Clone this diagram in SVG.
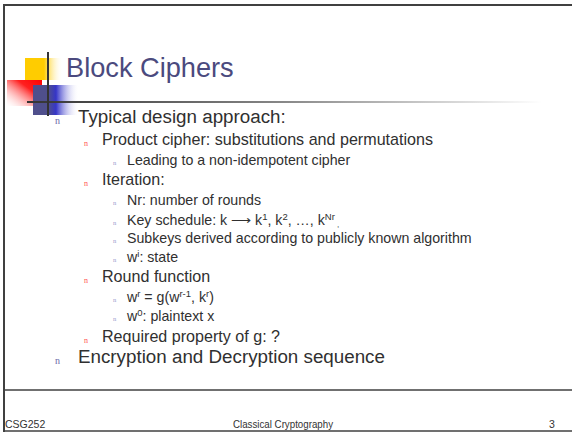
<svg xmlns="http://www.w3.org/2000/svg" width="572" height="432" viewBox="0 0 572 432">
<defs>
<linearGradient id="gYellow" x1="0" y1="0" x2="1" y2="0">
<stop offset="0" stop-color="#ffcc00"/><stop offset="0.5" stop-color="#ffcc00"/><stop offset="1" stop-color="#ffffff" stop-opacity="0"/>
</linearGradient>
<linearGradient id="gRed" x1="1" y1="0" x2="0" y2="1">
<stop offset="0" stop-color="#ff0000"/><stop offset="0.35" stop-color="#ff2020"/><stop offset="1" stop-color="#ffffff" stop-opacity="0.2"/>
</linearGradient>
<linearGradient id="gBlue" x1="0" y1="0" x2="1" y2="0">
<stop offset="0" stop-color="#4f4f8c"/><stop offset="0.33" stop-color="#4f4f8c"/><stop offset="0.5" stop-color="#3535c8"/><stop offset="1" stop-color="#ffffff" stop-opacity="0"/>
</linearGradient>
<linearGradient id="gLine" x1="0" y1="0" x2="1" y2="0">
<stop offset="0" stop-color="#333333"/><stop offset="0.5" stop-color="#888888"/><stop offset="1" stop-color="#ffffff"/>
</linearGradient>
</defs>
<style>
.t{font-family:"Liberation Sans",Arial,sans-serif;fill:#303030}
.l1{font-size:18.8px}
.l2{font-size:16.1px}
.l3{font-size:14.2px}
.b{font-family:"Liberation Serif",serif}
.b1{font-size:10px;fill:#6a6aa8}
.b2{font-size:8px;fill:#ff5555}
.b3{font-size:6.5px;fill:#9a9acc}
.f{font-family:"Liberation Sans",Arial,sans-serif;font-size:10.5px;fill:#333333}
.frame{stroke:#404040;fill:none}
</style>
<rect x="0" y="0" width="572" height="432" fill="#ffffff"/>
<g id="frame">
<line class="frame" x1="3" y1="5" x2="572" y2="5" stroke-width="2"/>
<line class="frame" x1="4" y1="4" x2="4" y2="432" stroke-width="2"/>
<line class="frame" x1="3" y1="390" x2="572" y2="390" stroke-width="1.5"/>
<line class="frame" x1="3" y1="431" x2="572" y2="431" stroke-width="1.5"/>
</g>
<g id="logo">
<rect x="25" y="58" width="38" height="22" fill="url(#gYellow)"/>
<rect x="7" y="80" width="35" height="26" fill="url(#gRed)"/>
<rect x="33" y="85" width="46" height="30" fill="url(#gBlue)"/>
<rect x="27" y="101" width="515" height="2" fill="url(#gLine)"/>
<line x1="48" y1="52" x2="48" y2="116" stroke="#333333" stroke-width="2"/>
</g>
<g id="title">
<text x="66" y="77" style="font-family:'Liberation Sans',Arial,sans-serif;font-size:27.2px;fill:#4b4a7e">Block Ciphers</text>
</g>
<g id="body">
<text class="b b1" x="55" y="124">n</text>
<text class="t l1" x="78" y="123">Typical design approach:</text>
<text class="b b2" x="84" y="146">n</text>
<text class="t l2" x="102" y="145">Product cipher: substitutions and permutations</text>
<text class="b b3" x="113" y="165">n</text>
<text class="t l3" x="127" y="165">Leading to a non-idempotent cipher</text>
<text class="b b2" x="84" y="186">n</text>
<text class="t l2" x="102" y="185">Iteration:</text>
<text class="b b3" x="113" y="205">n</text>
<text class="t l3" x="127" y="205">Nr: number of rounds</text>
<text class="b b3" x="113" y="225">n</text>
<text class="t l3" x="127" y="225">Key schedule: k ⟶ k<tspan font-size="9.5" dy="-5">1</tspan><tspan dy="5">, k</tspan><tspan font-size="9.5" dy="-5">2</tspan><tspan dy="5">, …, k</tspan><tspan font-size="9.5" dy="-5">Nr</tspan><tspan font-size="8" dy="7"> ,</tspan></text>
<text class="b b3" x="113" y="243">n</text>
<text class="t l3" x="127" y="243">Subkeys derived according to publicly known algorithm</text>
<text class="b b3" x="113" y="262">n</text>
<text class="t l3" x="127" y="262">w<tspan font-size="9.5" dy="-5">i</tspan><tspan dy="5">: state</tspan></text>
<text class="b b2" x="84" y="283">n</text>
<text class="t l2" x="102" y="282">Round function</text>
<text class="b b3" x="113" y="302">n</text>
<text class="t l3" x="127" y="302">w<tspan font-size="9.5" dy="-5">r</tspan><tspan dy="5"> = g(w</tspan><tspan font-size="9.5" dy="-5">r-1</tspan><tspan dy="5">, k</tspan><tspan font-size="9.5" dy="-5">r</tspan><tspan dy="5">)</tspan></text>
<text class="b b3" x="113" y="321">n</text>
<text class="t l3" x="127" y="321">w<tspan font-size="9.5" dy="-5">0</tspan><tspan dy="5">: plaintext x</tspan></text>
<text class="b b2" x="84" y="343">n</text>
<text class="t l2" x="102" y="342">Required property of g: ?</text>
<text class="b b1" x="55" y="364">n</text>
<text class="t l1" x="78" y="363">Encryption and Decryption sequence</text>
</g>
<g id="footer">
<text class="f" x="5" y="428">CSG252</text>
<text class="f" x="233" y="428" textLength="100" lengthAdjust="spacingAndGlyphs">Classical Cryptography</text>
<text class="f" x="549" y="428">3</text>
</g>
</svg>
